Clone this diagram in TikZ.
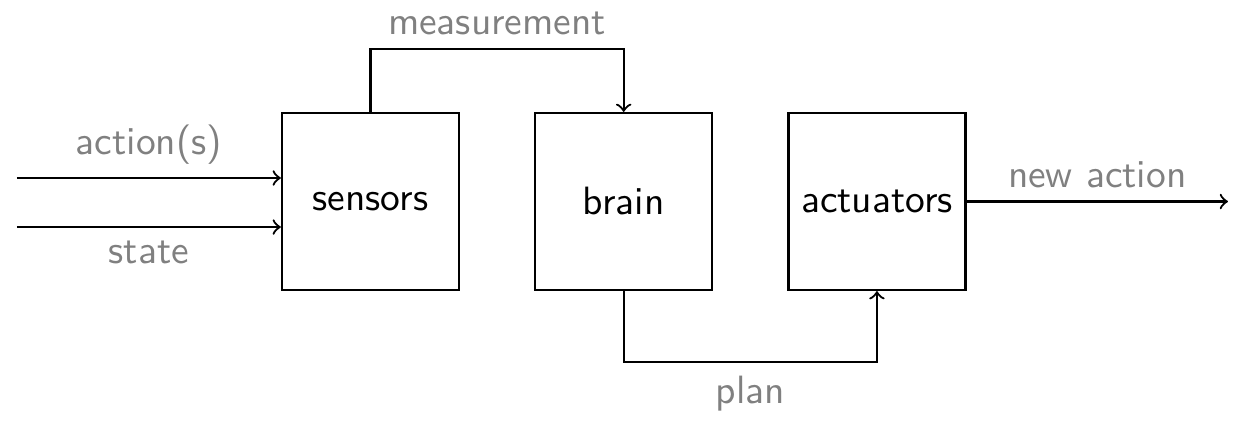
\documentclass[tikz,border=0pt]{standalone}
\usetikzlibrary{positioning}
\tikzset{
  block/.style={draw, semithick, minimum size=1.67cm, inner sep=0pt},
  lbl/.style={text=gray},
}
\begin{document}
\begin{tikzpicture}[font=\sffamily\fontsize{10.6}{13}\selectfont, semithick]
  \useasboundingbox (0, 0) rectangle (11.774, 4.0);
  \node[block] at (3.495, 2.099) (sensors) {sensors};
  \node[block, right=0.698cm of sensors] (brain) {brain};
  \node[block, right=0.698cm of brain] (actuators) {actuators};
  \coordinate (act) at (0.16, 2.321);
  \coordinate (st) at (0.16, 1.858);
  \coordinate (out) at (11.585, 2.099);
  \draw[->] (act) -- node[above, lbl] {action(s)} (act -| sensors.west);
  \draw[->] (st) -- node[below, lbl] {state} (st -| sensors.west);
  \draw[->] (sensors.north) -- ++(0, 0.594) -| node[pos=0.25, above, lbl] {measurement} (brain.north);
  \draw[->] (brain.south) -- ++(0, -0.67) -| node[pos=0.25, below, lbl] {plan} (actuators.south);
  \draw[->] (actuators.east) -- node[above, lbl] {new action} (out);
\end{tikzpicture}
\end{document}
